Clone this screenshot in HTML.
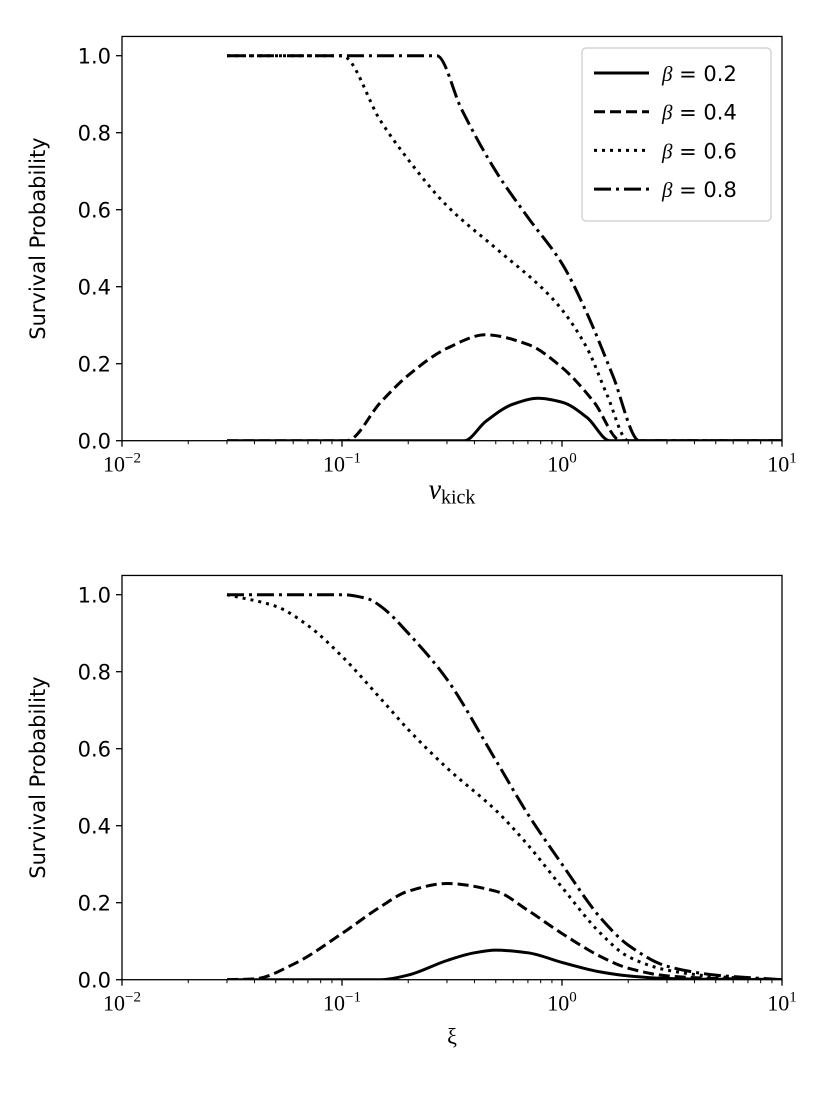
<!DOCTYPE html>
<html><head><meta charset="utf-8"><style>
body{margin:0;background:#fff}
svg{display:block}
text{font-family:"DejaVu Sans","Liberation Sans",sans-serif;fill:#000}
.ser{font-family:"Liberation Serif",serif}
</style></head><body>
<svg id="fig" width="830" height="1107" viewBox="0 0 830 1107" xmlns="http://www.w3.org/2000/svg"></svg>
<script>
// Top panel data (x = v_kick)
const topX02=[0.03,0.36,0.45,0.6,0.78,1.0,1.3,1.65,10];
const topY02=[0,0,0.05,0.095,0.11,0.1,0.06,0,0];
const topX04=[0.03,0.105,0.15,0.2,0.3,0.45,0.7,1.0,1.4,1.85,10];
const topY04=[0,0,0.1,0.17,0.24,0.275,0.25,0.19,0.1,0,0];
const topX06=[0.03,0.1,0.15,0.2,0.3,0.5,0.8,1.0,1.3,1.6,2.0,10];
const topY06=[1,1,0.83,0.73,0.61,0.5,0.4,0.34,0.24,0.12,0,0];
const topX08=[0.03,0.27,0.35,0.5,0.7,1.0,1.3,1.7,2.25,10];
const topY08=[1,1,0.86,0.7,0.58,0.46,0.33,0.17,0,0];
// Bottom panel data (x = xi)
const botX02=[0.03,0.15,0.2,0.3,0.4,0.5,0.7,1,1.5,2,3,5,10];
const botY02=[0,0,0.012,0.05,0.07,0.077,0.07,0.045,0.02,0.01,0.003,0.001,0];
const botX04=[0.03,0.04,0.06,0.1,0.15,0.2,0.3,0.5,0.7,1,1.5,2,3,5,10];
const botY04=[0,0.002,0.04,0.12,0.19,0.23,0.25,0.23,0.18,0.12,0.06,0.03,0.01,0.003,0];
const botX06=[0.03,0.05,0.07,0.1,0.15,0.2,0.3,0.5,0.7,1,1.5,2,3,5,10];
const botY06=[1,0.97,0.92,0.84,0.73,0.65,0.55,0.44,0.35,0.24,0.12,0.06,0.025,0.008,0];
const botX08=[0.03,0.1,0.13,0.15,0.2,0.3,0.5,0.7,1,1.5,2,3,5,10];
const botY08=[1,1,0.99,0.97,0.9,0.78,0.57,0.43,0.3,0.16,0.09,0.035,0.012,0];
const yTicks=[0,0.2,0.4,0.6,0.8,1.0];
const yTickLabels=["0.0","0.2","0.4","0.6","0.8","1.0"];
const xDecades=[-2,-1,0,1];
const betaLabels=["0.2","0.4","0.6","0.8"];

const NS="http://www.w3.org/2000/svg";
const svg=document.getElementById('fig');
const L=122,R=782;
function mk(tag,attrs,parent){const e=document.createElementNS(NS,tag);for(const k in attrs)e.setAttribute(k,attrs[k]);(parent||svg).appendChild(e);return e;}
const dashes=["none","11,5","3,5","17,5,3,5"];

function monoPath(P){
  const n=P.length;if(n<3)return P.map((p,i)=>(i?'L':'M')+p[0]+','+p[1]).join(' ');
  const d=[],m=[];
  for(let i=0;i<n-1;i++)d.push((P[i+1][1]-P[i][1])/(P[i+1][0]-P[i][0]));
  m.push(d[0]);
  for(let i=1;i<n-1;i++)m.push(d[i-1]*d[i]<=0?0:2/(1/d[i-1]+1/d[i]));
  m.push(d[n-2]);
  let s='M'+P[0][0].toFixed(1)+','+P[0][1].toFixed(1);
  for(let i=0;i<n-1;i++){
    const h=(P[i+1][0]-P[i][0])/3;
    s+=' C'+(P[i][0]+h).toFixed(1)+','+(P[i][1]+m[i]*h).toFixed(1)+' '+(P[i+1][0]-h).toFixed(1)+','+(P[i+1][1]-m[i+1]*h).toFixed(1)+' '+P[i+1][0].toFixed(1)+','+P[i+1][1].toFixed(1);
  }
  return s;
}

function panel(y0px,y1px,series,name,xlabel,showLegend){
  const g=mk('g',{});
  
  
  const top=y1px-(y0px-y1px)*0.05;
  const sx=v=>L+(Math.log10(v)+2)/3*(R-L);
  const sy=v=>y0px-v*(y0px-y1px);
  const clip='c'+name;
  const cp=mk('clipPath',{id:clip},g);mk('rect',{x:L,y:top-3,width:R-L,height:y0px-top+3},cp);
  series.forEach((s,i)=>{
    const pts=s[0].map((x,j)=>[sx(x),sy(s[1][j])]);
    const p=mk('path',{d:monoPath(pts),fill:'none',stroke:'#000','stroke-width':3,'stroke-dasharray':dashes[i],'clip-path':'url(#'+clip+')'},g);
    
    
  });
  mk('rect',{x:L,y:top,width:R-L,height:y0px-top,fill:'none',stroke:'#000','stroke-width':1.3},g);
  yTicks.forEach((t,i)=>{
    mk('line',{x1:L-6,x2:L,y1:sy(t),y2:sy(t),stroke:'#000','stroke-width':1.3},g);
    const tx=mk('text',{x:L-11,y:sy(t)+8,'text-anchor':'end','font-size':21},g);tx.textContent=yTickLabels[i];
    
    
  });
  xDecades.forEach((d,i)=>{
    const x=sx(Math.pow(10,d));
    mk('line',{x1:x,x2:x,y1:y0px,y2:y0px+6,stroke:'#000','stroke-width':1.3},g);
    const tx=mk('text',{x:x,y:y0px+31,'text-anchor':'middle','font-size':22,class:'ser'},g);
    tx.innerHTML='10<tspan dy="-9" font-size="15">'+(d<0?'\u2212'+(-d):d)+'</tspan>';
    
    
    if(i<3)for(let k=2;k<10;k++){const xm=sx(k*Math.pow(10,d));mk('line',{x1:xm,x2:xm,y1:y0px,y2:y0px+3.5,stroke:'#000','stroke-width':1},g);}
  });
  const yl=mk('text',{x:0,y:0,'text-anchor':'middle','font-size':21,transform:'translate(45,'+((y0px+top)/2)+') rotate(-90)'},g);
  yl.textContent='Survival Probability';
  
  
  const xl=mk('text',{x:(L+R)/2,y:y0px+(xlabel==='xi'?64:58),'text-anchor':'middle','font-size':xlabel==='xi'?22:28,class:'ser'},g);
  if(xlabel==='xi')xl.textContent='\u03be';else xl.innerHTML='<tspan font-style="italic">v</tspan><tspan font-size="20" dy="5">kick</tspan>';
  
  
  if(showLegend){
    const lg=mk('g',{},g);
    
    
    mk('rect',{x:582,y:48,width:189,height:173,rx:4,fill:'#fff',stroke:'#ccc','stroke-width':1.2},lg);
    betaLabels.forEach((b,i)=>{
      const y=73+i*38.7;
      const e=mk('g',{},lg);
      
      
      mk('line',{x1:594,x2:649,y1:y,y2:y,stroke:'#000','stroke-width':3,'stroke-dasharray':dashes[i]},e);
      const t=mk('text',{x:662,y:y+8,'font-size':21},e);
      t.innerHTML='<tspan font-family="Liberation Serif" font-style="italic">\u03b2</tspan> = '+b;
    });
  }
}
panel(440.7,55.7,[[topX02,topY02],[topX04,topY04],[topX06,topY06],[topX08,topY08]],'top-panel','vkick',true);
panel(979.7,594.7,[[botX02,botY02],[botX04,botY04],[botX06,botY06],[botX08,botY08]],'bottom-panel','xi',false);
</script>
</body></html>
